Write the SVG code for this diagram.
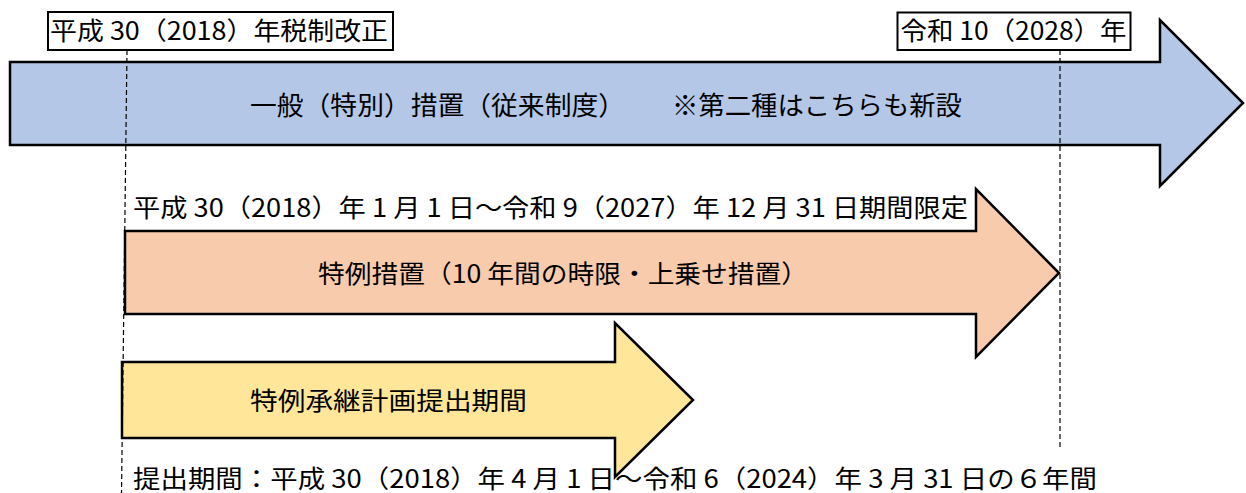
<svg xmlns="http://www.w3.org/2000/svg" width="1246" height="493" viewBox="0 0 1246 493">
<style>
.arrow{stroke:#000;stroke-width:2.5;stroke-linejoin:miter}
.blue{fill:#B4C7E7}
.orange{fill:#F8CBAD}
.yellow{fill:#FFE699}
.box{fill:#fff;stroke:#000;stroke-width:2}
.t{font-family:"Noto Sans CJK JP","Noto Sans CJK SC",sans-serif;font-size:25px;fill:#000}
.guide{stroke:#000;stroke-width:1.2;stroke-dasharray:5,3;fill:none}
</style>
<rect width="1246" height="493" fill="#fff"/>
<g id="general">
<polygon class="arrow blue" points="10,62 1160,62 1160,20 1243,103 1160,186 1160,145 10,145"/>
<text class="t" x="250" y="115" textLength="375" lengthAdjust="spacingAndGlyphs" style="font-size:26px">一般（特別）措置（従来制度）</text>
<text class="t" x="672" y="115" textLength="290" lengthAdjust="spacingAndGlyphs" style="font-size:26px">※第二種はこちらも新設</text>
</g>
<g id="special">
<polygon class="arrow orange" points="125,231 976,231 976,189 1059,273 976,357 976,314 125,314"/>
<text class="t" x="318" y="282.5" textLength="490" lengthAdjust="spacingAndGlyphs">特例措置（10 年間の時限・上乗せ措置）</text>
</g>
<g id="special-period">
<text class="t" x="133" y="216.5" textLength="835" lengthAdjust="spacingAndGlyphs">平成 30（2018）年 1 月 1 日～令和 9（2027）年 12 月 31 日期間限定</text>
</g>
<g id="plan">
<polygon class="arrow yellow" points="122,362 615,362 615,323 693,400 615,477 615,438 122,438"/>
<text class="t" x="250" y="409.5" textLength="277" lengthAdjust="spacingAndGlyphs">特例承継計画提出期間</text>
</g>
<g id="plan-period">
<text class="t" x="133" y="487.5" textLength="964" lengthAdjust="spacingAndGlyphs">提出期間：平成 30（2018）年 4 月 1 日～令和 6（2024）年 3 月 31 日の６年間</text>
</g>
<g id="label-2018">
<rect class="box" x="48" y="12" width="345" height="38"/>
<text class="t" x="50" y="39.5" textLength="338" lengthAdjust="spacingAndGlyphs">平成 30（2018）年税制改正</text>
</g>
<g id="label-2028">
<rect class="box" x="897.5" y="12.5" width="233" height="37.5"/>
<text class="t" x="900.5" y="40" textLength="226" lengthAdjust="spacingAndGlyphs">令和 10（2028）年</text>
</g>
<g id="connectors">
<line class="guide" x1="127" y1="50" x2="121.5" y2="493"/>
<line class="guide" x1="1060" y1="50" x2="1060" y2="447"/>
</g>
</svg>
